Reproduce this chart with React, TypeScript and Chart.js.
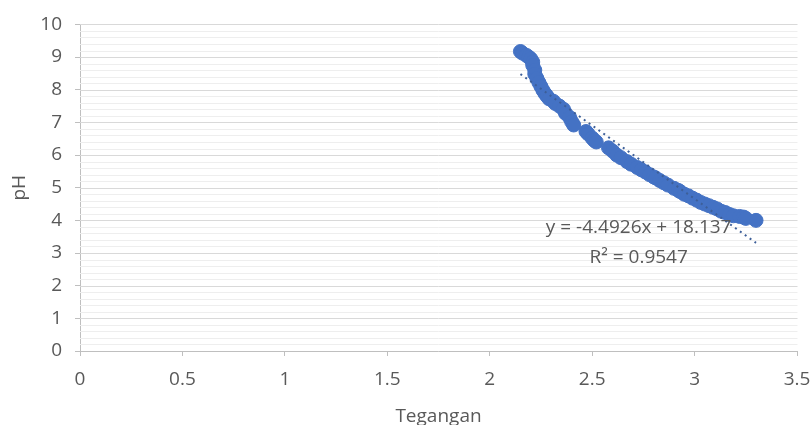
import React, { useEffect, useRef } from "react";
import { Chart, registerables } from "chart.js";

Chart.register(...registerables);

const tegangan = [2.15,2.16,2.18,2.19,2.20,2.21,2.21,2.22,2.22,2.23,2.24,2.25,2.26,2.27,2.28,2.29,2.31,2.32,2.34,2.36,2.37,2.39,2.40,2.41,2.47,2.48,2.50,2.51,2.52,2.58,2.60,2.62,2.64,2.67,2.69,2.72,2.74,2.76,2.78,2.80,2.81,2.83,2.85,2.87,2.90,2.92,2.93,2.95,2.97,2.99,3.01,3.03,3.05,3.07,3.09,3.11,3.13,3.15,3.17,3.19,3.22,3.24,3.25,3.30];
const pH = [9.17,9.12,9.05,9.00,8.95,8.85,8.75,8.60,8.48,8.35,8.22,8.10,7.98,7.88,7.80,7.72,7.65,7.58,7.50,7.40,7.28,7.15,7.02,6.92,6.72,6.65,6.52,6.45,6.40,6.22,6.12,6.00,5.92,5.80,5.72,5.62,5.55,5.48,5.40,5.33,5.30,5.22,5.15,5.08,4.98,4.92,4.88,4.80,4.75,4.68,4.62,4.55,4.50,4.45,4.40,4.35,4.28,4.24,4.18,4.14,4.12,4.10,4.06,4.00];

const trendSlope = -4.4926;
const trendIntercept = 18.137;
const trendLabel = ["y = -4.4926x + 18.137", "R² = 0.9547"];
const trendLabelPos = [2.727, 3.79];

const X_MIN = 0;
const X_MAX = 3.5;

const FONT = "'Open Sans', sans-serif";
const TEXT = "#595959";
const AXIS = "#bfbfbf";
const MAJOR = "#d9d9d9";
const MINOR = "#eeeeee";

const isInt = (v: number) => Math.abs(v - Math.round(v)) < 1e-6;

export default function App() {
  const ref = useRef<HTMLCanvasElement | null>(null);
  useEffect(() => {
    if (!ref.current) return;
    const xs = [Math.min(...tegangan), Math.max(...tegangan)];
    const gridPlugin = {
      id: "gridLines",
      beforeDatasetsDraw(chart: any) {
        const { ctx, scales } = chart;
        const xS = scales.x;
        const yS = scales.y;
        const x1 = xS.getPixelForValue(X_MIN);
        const x2 = xS.getPixelForValue(X_MAX);
        ctx.save();
        ctx.beginPath();
        ctx.rect(x1, 0, x2 - x1 + 1, chart.height);
        ctx.clip();
        ctx.lineWidth = 1;
        const ticks = yS.ticks.slice().sort((a: any, b: any) => (isInt(a.value) ? 1 : 0) - (isInt(b.value) ? 1 : 0));
        ticks.forEach((t: any) => {
          const py = Math.round(yS.getPixelForValue(t.value)) + 0.5;
          ctx.strokeStyle = t.value === 0 ? AXIS : isInt(t.value) ? MAJOR : MINOR;
          ctx.beginPath();
          ctx.moveTo(x1, py);
          ctx.lineTo(x2 + 0.5, py);
          ctx.stroke();
        });
        ctx.restore();
      },
    };
    const labelPlugin = {
      id: "trendLabel",
      afterDatasetsDraw(chart: any) {
        const { ctx, scales } = chart;
        const px = scales.x.getPixelForValue(trendLabelPos[0]);
        const py = scales.y.getPixelForValue(trendLabelPos[1]);
        ctx.save();
        ctx.font = `19px ${FONT}`;
        ctx.fillStyle = TEXT;
        ctx.textAlign = "center";
        ctx.textBaseline = "middle";
        ctx.fillText(trendLabel[0], px, py);
        ctx.fillText(trendLabel[1], px, py + 30);
        ctx.restore();
      },
    };
    const chart = new Chart(ref.current, {
      type: "scatter",
      data: {
        datasets: [
          {
            type: "line",
            label: "trend",
            data: xs.map((x) => ({ x, y: trendSlope * x + trendIntercept })),
            borderColor: "#3d5f99",
            borderWidth: 2,
            borderDash: [2, 4],
            pointRadius: 0,
            fill: false,
            order: 0,
          } as any,
          {
            label: "pH",
            data: tegangan.map((x, i) => ({ x, y: pH[i] })),
            backgroundColor: "#4472C4",
            borderColor: "#4472C4",
            pointRadius: 7,
            pointHoverRadius: 7,
            order: 1,
          },
        ],
      },
      options: {
        animation: false,
        responsive: true,
        maintainAspectRatio: false,
        layout: { padding: { left: 0, top: 21, right: 0, bottom: 0 } },
        plugins: { legend: { display: false }, tooltip: { enabled: false } },
        scales: {
          x: {
            type: "linear",
            min: X_MIN,
            max: X_MAX,
            afterFit: (s: any) => {
              s.height = 74;
              s.paddingRight = 14;
              s.paddingLeft = 0;
            },
            ticks: {
              stepSize: 0.5,
              color: TEXT,
              font: { family: FONT, size: 19 },
              padding: 12,
              maxRotation: 0,
              autoSkip: false,
              callback: (v: any) => String(Number(v)),
            },
            grid: { drawOnChartArea: false, drawTicks: true, tickLength: 5, tickColor: AXIS },
            border: { display: false },
            title: {
              display: true,
              text: "Tegangan",
              color: TEXT,
              font: { family: FONT, size: 19, lineHeight: 0.85 },
              padding: { top: 0, bottom: 0 },
            },
          },
          y: {
            min: 0,
            max: 10,
            afterFit: (s: any) => { s.width = 80; },
            ticks: {
              stepSize: 0.2,
              autoSkip: false,
              color: TEXT,
              font: { family: FONT, size: 19 },
              padding: 13,
              callback: (v: any) => (isInt(Number(v)) ? String(Math.round(Number(v))) : ""),
            },
            grid: {
              drawOnChartArea: false,
              drawTicks: true,
              tickColor: (c: any) => (c.tick && isInt(c.tick.value) ? AXIS : "rgba(0,0,0,0)"),
              tickLength: 5,
              lineWidth: 1,
            },
            border: { display: true, color: AXIS, width: 1 },
            title: {
              display: true,
              text: "pH",
              color: TEXT,
              font: { family: FONT, size: 19 },
              padding: { top: 8, bottom: 0 },
            },
          },
        },
      },
      plugins: [gridPlugin, labelPlugin],
    });
    return () => chart.destroy();
  }, []);
  return (
    <div style={{ position: "fixed", left: 0, top: 0, width: 811, height: 425, background: "#fff" }}>
      <canvas ref={ref} />
    </div>
  );
}
